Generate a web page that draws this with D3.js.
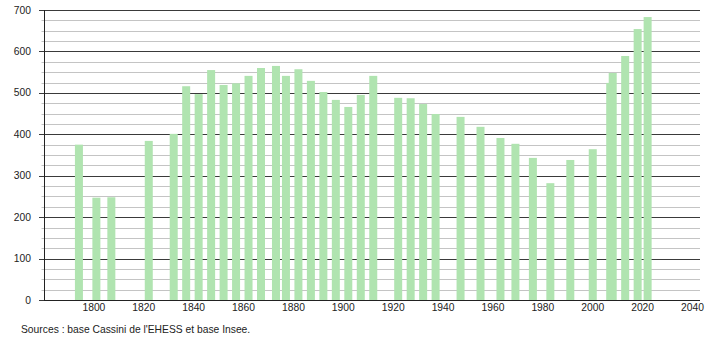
<!DOCTYPE html>
<html>
<head>
<meta charset="utf-8">
<script src="https://cdn.jsdelivr.net/npm/d3@7"></script>
<style>
  body { margin: 0; background: #fff; }
  text { font-family: "Liberation Sans", Arial, sans-serif; font-size: 10.3px; fill: #222; }
</style>
</head>
<body>
<svg id="chart" width="710" height="340"></svg>
<script>
// census years and population
const years = [1793, 1800, 1806, 1821, 1831, 1836, 1841, 1846, 1851, 1856,
               1861, 1866, 1872, 1876, 1881, 1886, 1891, 1896, 1901, 1906,
               1911, 1921, 1926, 1931, 1936, 1946, 1954, 1962, 1968, 1975,
               1982, 1990, 1999, 2006, 2007, 2012, 2017, 2021];
const population = [375, 247, 248, 384, 401, 516, 497, 555, 519, 523,
                    541, 560, 565, 541, 557, 529, 502, 483, 466, 495,
                    541, 488, 487, 473, 449, 442, 418, 391, 377, 343,
                    282, 338, 364, 524, 548, 589, 654, 683];
const xTicks = [1800, 1820, 1840, 1860, 1880, 1900, 1920, 1940, 1960, 1980, 2000, 2020, 2040];
const yTicks = [0, 100, 200, 300, 400, 500, 600, 700];
const yMinor = d3.range(0, 701, 25);

const data = years.map((y, i) => ({year: y, pop: population[i]}));

const svg = d3.select("#chart");
const mLeft = 44, mRight = 700, mTop = 10, mBottom = 300;

const x = d3.scaleLinear().domain([1780, 2043]).range([mLeft, mRight]);
const y = d3.scaleLinear().domain([0, 700]).range([mBottom, mTop]);

// minor grid
svg.append("g")
    .selectAll("line")
    .data(yMinor.filter(d => d % 100 !== 0))
    .join("line")
        .attr("x1", mLeft - 2.5).attr("x2", mRight)
        .attr("y1", d => Math.round(y(d)) + 0.5).attr("y2", d => Math.round(y(d)) + 0.5)
        .attr("stroke", "#c4c4c4");

// major grid
svg.append("g")
    .selectAll("line")
    .data(yTicks)
    .join("line")
        .attr("x1", mLeft - 5).attr("x2", mRight)
        .attr("y1", d => Math.round(y(d)) + 0.5).attr("y2", d => Math.round(y(d)) + 0.5)
        .attr("stroke", "#3a3a3a");

// bars
svg.append("g")
    .selectAll("rect")
    .data(data)
    .join("rect")
        .attr("x", d => x(d.year) - 1.5)
        .attr("width", 8)
        .attr("y", d => y(d.pop))
        .attr("height", d => y(0) - y(d.pop))
        .attr("fill", "#b0e4b0");

// axes lines
svg.append("line")
    .attr("x1", mLeft + 0.5).attr("x2", mLeft + 0.5)
    .attr("y1", mTop).attr("y2", mBottom + 0.5)
    .attr("stroke", "#222");
svg.append("line")
    .attr("x1", mLeft).attr("x2", mRight)
    .attr("y1", mBottom + 0.5).attr("y2", mBottom + 0.5)
    .attr("stroke", "#222");

// y labels
svg.append("g")
    .selectAll("text")
    .data(yTicks)
    .join("text")
        .attr("x", 31)
        .attr("y", d => y(d) + 3.5)
        .attr("text-anchor", "end")
        .text(d => d);

// x labels
svg.append("g")
    .selectAll("text")
    .data(xTicks)
    .join("text")
        .attr("x", d => x(d))
        .attr("y", 311)
        .attr("text-anchor", "middle")
        .text(d => d);

svg.append("text")
    .attr("x", 21)
    .attr("y", 333)
    .text("Sources : base Cassini de l'EHESS et base Insee.");
</script>
</body>
</html>
